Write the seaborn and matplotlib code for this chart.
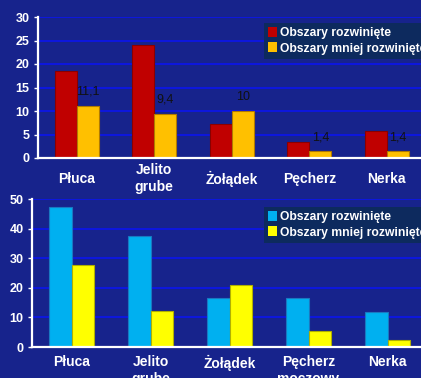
import numpy as np
import pandas as pd
import seaborn as sns
import matplotlib.pyplot as plt
from matplotlib.patches import Patch

organy_gora = ['Płuca', 'Jelito\ngrube', 'Żołądek', 'Pęcherz', 'Nerka']
organy_dol = ['Płuca', 'Jelito\ngrube', 'Żołądek', 'Pęcherz\nmoczowy', 'Nerka']
serie = ['Obszary rozwinięte', 'Obszary mniej rozwinięte']

gora_rozw = [18.5, 24.1, 7.2, 3.5, 5.7]
gora_mniej = [11.1, 9.4, 10.0, 1.4, 1.4]
gora_etykiety = ['11,1', '9,4', '10', '1,4', '1,4']

dol_rozw = [47.4, 37.6, 16.7, 16.5, 11.8]
dol_mniej = [27.8, 12.1, 21.1, 5.4, 2.5]

tlo = '#17238c'
siatka = '#0a14f5'
legenda_tlo = '#0d2a5e'

sns.set_style('dark')
plt.rcParams['font.family'] = ['Liberation Sans', 'DejaVu Sans']

fig = plt.figure(figsize=(4.21, 3.78), dpi=100, facecolor=tlo)
ax1 = fig.add_axes([38/421, 220/378, 387.5/421, 141/378])
ax2 = fig.add_axes([32/421, 31/378, 395/421, 148/378])


def dane(organy, a, b):
    return pd.DataFrame({
        'organ': organy * 2,
        'seria': [serie[0]] * len(a) + [serie[1]] * len(b),
        'wartosc': a + b,
    })


def rysuj(ax, df, organy, kolory, krawedzie, ymax, krok):
    sns.barplot(data=df, x='organ', y='wartosc', hue='seria', order=organy,
                hue_order=serie, palette=dict(zip(serie, kolory)),
                width=0.57, gap=0, ax=ax, legend=False, saturation=1)
    for c, k in zip(ax.containers, krawedzie):
        for p in c:
            p.set_edgecolor(k)
            p.set_linewidth(0.8)
    ax.set_facecolor(tlo)
    ax.set_ylim(0, ymax)
    ax.set_yticks(np.arange(0, ymax + 1, krok))
    ax.set_xlim(-0.5, len(organy) - 0.5)
    ax.yaxis.grid(True, color=siatka, lw=1.1)
    ax.xaxis.grid(False)
    ax.set_axisbelow(True)
    for s in ['top', 'right']:
        ax.spines[s].set_visible(False)
    for s in ['left', 'bottom']:
        ax.spines[s].set_color('white')
        ax.spines[s].set_linewidth(1.6)
    ax.set_xlabel('')
    ax.set_ylabel('')
    ax.tick_params(axis='y', colors='white', length=3, width=1, pad=3,
                   labelsize=9, left=True)
    ax.tick_params(axis='x', colors='white', length=0, labelsize=10)
    for t in ax.get_yticklabels() + ax.get_xticklabels():
        t.set_fontweight('bold')
        t.set_linespacing(1.25)
    uchwyty = [Patch(facecolor=k, edgecolor='none') for k in kolory]
    leg = ax.legend(uchwyty, serie, loc='upper left', frameon=True,
                    fancybox=False, handlelength=0.7, handleheight=0.9,
                    handletextpad=0.3, labelspacing=0.25, borderpad=0.35,
                    fontsize=8.7, borderaxespad=0)
    leg.get_frame().set_facecolor(legenda_tlo)
    leg.get_frame().set_edgecolor('none')
    leg.get_frame().set_alpha(1)
    for t in leg.get_texts():
        t.set_color('white')
        t.set_fontweight('bold')
    return leg


leg1 = rysuj(ax1, dane(organy_gora, gora_rozw, gora_mniej), organy_gora,
             ['#c00000', '#ffc000'], ['#8a0000', '#b07a00'], 30, 5)
leg1.set_bbox_to_anchor((264/421, 1 - 23/378), transform=fig.transFigure)
ax1.tick_params(axis='x', pad=15)
for t in ax1.get_xticklabels():
    t.set_va('center')
ax1.bar_label(ax1.containers[1], labels=gora_etykiety, padding=6,
              fontsize=9, color='#111111')

leg2 = rysuj(ax2, dane(organy_dol, dol_rozw, dol_mniej), organy_dol,
             ['#00b0f0', '#ffff00'], ['#1a78c0', '#b0b000'], 50, 10)
leg2.set_bbox_to_anchor((264/421, 1 - 207/378), transform=fig.transFigure)
ax2.tick_params(axis='x', pad=6)

fig.savefig('out.png', dpi=100, facecolor=tlo)
